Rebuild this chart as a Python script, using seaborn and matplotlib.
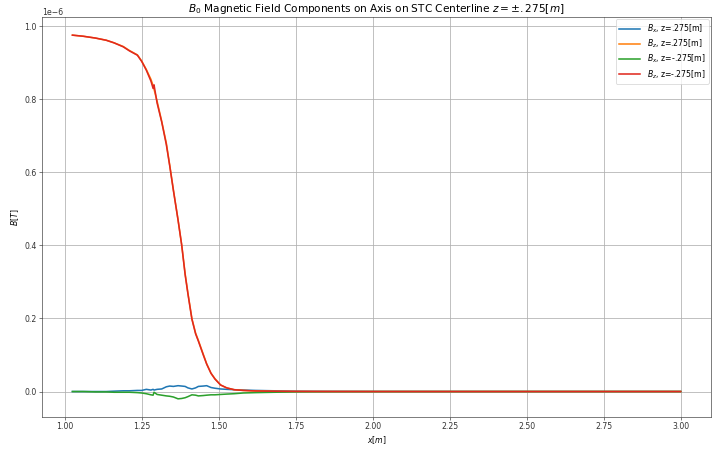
import numpy as np
import pandas as pd
import matplotlib
matplotlib.use("Agg")
import matplotlib.pyplot as plt
import seaborn as sns

# Sample positions along the centerline [m]
x_pos = [1.025, 1.06, 1.10, 1.135, 1.16, 1.19, 1.21, 1.236, 1.25, 1.265, 1.28, 1.287,
         1.29, 1.30, 1.315, 1.33, 1.341, 1.353, 1.368, 1.38, 1.391, 1.40, 1.413,
         1.425, 1.434, 1.45, 1.461, 1.475, 1.488, 1.506, 1.526, 1.55, 1.58, 1.62,
         1.68, 1.75, 1.85, 2.0, 2.25, 2.5, 2.75, 3.0]

# Field components in units of 1e-6 T
bx_pos = [0.000, 0.000, 0.000, 0.000, 0.001, 0.002, 0.002, 0.003, 0.003, 0.006, 0.004, 0.006,
          0.004, 0.006, 0.007, 0.013, 0.015, 0.014, 0.016, 0.015, 0.014, 0.010, 0.007,
          0.010, 0.014, 0.015, 0.016, 0.011, 0.009, 0.007, 0.006, 0.005, 0.004, 0.003,
          0.002, 0.001, 0.0005, 0.0002, 0.0001, 0.0, 0.0, 0.0]
bz_pos = [0.976, 0.973, 0.968, 0.962, 0.955, 0.945, 0.934, 0.922, 0.905, 0.882, 0.855, 0.838,
          0.828, 0.795, 0.740, 0.680, 0.620, 0.552, 0.470, 0.401, 0.323, 0.270, 0.200,
          0.160, 0.140, 0.102, 0.076, 0.050, 0.035, 0.018, 0.010, 0.005, 0.003, 0.0015,
          0.0007, 0.0003, 0.0001, 0.0, 0.0, 0.0, 0.0, 0.0]
bx_neg = [0.000, 0.000, -0.001, -0.001, -0.002, -0.002, -0.002, -0.003, -0.004, -0.006, -0.009, -0.010,
          -0.002, -0.008, -0.010, -0.012, -0.013, -0.015, -0.020, -0.019, -0.017, -0.014, -0.009,
          -0.010, -0.012, -0.011, -0.010, -0.009, -0.009, -0.008, -0.007, -0.006, -0.004, -0.003,
          -0.002, -0.001, -0.0005, -0.0002, -0.0001, 0.0, 0.0, 0.0]
bz_neg = [0.976, 0.973, 0.968, 0.962, 0.955, 0.944, 0.933, 0.921, 0.904, 0.880, 0.850, 0.830,
          0.840, 0.790, 0.738, 0.676, 0.618, 0.550, 0.470, 0.400, 0.320, 0.268, 0.198,
          0.158, 0.138, 0.100, 0.075, 0.050, 0.034, 0.018, 0.010, 0.005, 0.003, 0.0015,
          0.0007, 0.0003, 0.0001, 0.0, 0.0, 0.0, 0.0, 0.0]

labels = [r"$B_x$, z=.275[m]", r"$B_z$, z=.275[m]",
          r"$B_x$, z=-.275[m]", r"$B_z$, z=-.275[m]"]
series = [bx_pos, bz_pos, bx_neg, bz_neg]
colors = ["#1f77b4", "#ff7f0e", "#2ca02c", "#e0281e"]

frames = []
for lab, vals in zip(labels, series):
    frames.append(pd.DataFrame({"x": x_pos, "B": np.array(vals) * 1e-6, "series": lab}))
df = pd.concat(frames, ignore_index=True)

# Large canvas at low dpi: 718 x 450 pixels
DPI = 56
fig = plt.figure(figsize=(718 / DPI, 450 / DPI), dpi=DPI)
ax = fig.add_axes([0.0585, 0.0733, 0.9318, 0.889])

sns.lineplot(data=df, x="x", y="B", hue="series", hue_order=labels,
             palette=colors, sort=False, estimator=None, linewidth=2.0, ax=ax)

ax.grid(True, color="#b0b0b0", linewidth=1.0)
ax.set_axisbelow(True)
ax.set_xticks([1.0, 1.25, 1.5, 1.75, 2.0, 2.25, 2.5, 2.75, 3.0])
ax.tick_params(labelsize=10, colors="#333333")
for s in ax.spines.values():
    s.set_color("#333333")
ax.yaxis.get_offset_text().set_fontsize(10)
ax.set_xlabel(r"$x[m]$", fontsize=10)
ax.set_ylabel(r"$B[T]$", fontsize=10)
ax.set_title(r"$B_0$ Magnetic Field Components on Axis on STC Centerline $z=\pm.275[m]$",
             fontsize=13.5)
ax.legend(loc="upper right", fontsize=10, title=None, handlelength=2.8,
          labelspacing=0.35, borderaxespad=0.3)

fig.savefig("out.png", dpi=DPI)
